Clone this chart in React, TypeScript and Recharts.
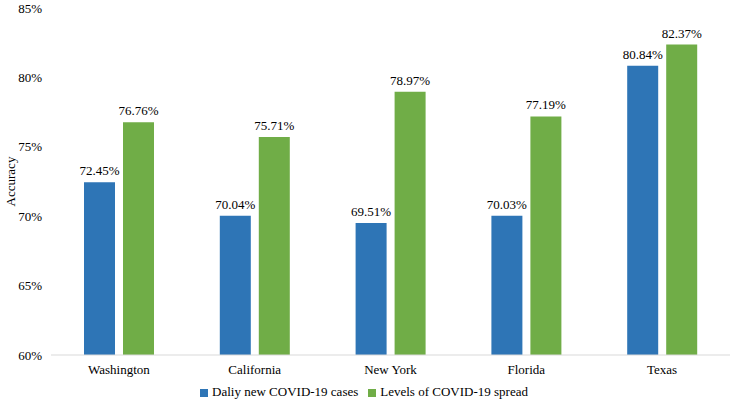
import React from "react";
import { BarChart, Bar, XAxis, YAxis, Legend, LabelList } from "recharts";

const states = ["Washington", "California", "New York", "Florida", "Texas"];
const dailyCases = [72.45, 70.04, 69.51, 70.03, 80.84];
const spreadLevels = [76.76, 75.71, 78.97, 77.19, 82.37];
const yTicks = [60, 65, 70, 75, 80, 85];

const data = states.map((s, i) => ({ state: s, daily: dailyCases[i], spread: spreadLevels[i] }));

const font = "'Liberation Serif', 'Times New Roman', serif";

const renderLabel = (props: any) => {
  const { x, y, width, value } = props;
  return (
    <text
      x={Number(x) + Number(width) / 2}
      y={Number(y) - 7}
      textAnchor="middle"
      fill="#000"
      fontSize={13}
      fontFamily={font}
      style={{ fontFamily: font }}
    >
      {`${Number(value).toFixed(2)}%`}
    </text>
  );
};

export default function App() {
  return (
    <div style={{ position: "absolute", left: 0, top: 0, fontFamily: font }}>
      <BarChart
        width={731}
        height={407}
        data={data}
        margin={{ top: 8, right: 1, left: 0, bottom: 0 }}
        barGap={8}
        barSize={31}
      >
        <XAxis
          dataKey="state"
          tickLine={false}
          tickSize={0}
          tickMargin={10}
          axisLine={{ stroke: "#d9d9d9" }}
          tick={{ fill: "#000", fontSize: 13, fontFamily: font }}
          height={52}
        />
        <YAxis
          domain={[60, 85]}
          ticks={yTicks}
          tickFormatter={(v: number) => `${v}%`}
          axisLine={false}
          tickLine={false}
          tickSize={0}
          tickMargin={9}
          width={51}
          tick={{ fill: "#000", fontSize: 13, fontFamily: font }}
          label={{ value: "Accuracy", angle: -90, position: "insideLeft", offset: 10, fill: "#000", fontSize: 13, fontFamily: font, style: { textAnchor: "middle" } }}
        />
        <Legend
          layout="horizontal"
          verticalAlign="middle"
          align="center"
          iconType="square"
          iconSize={8}
          wrapperStyle={{ top: 384, left: 4, fontSize: 13, fontFamily: font }}
          formatter={(value: string) => <span style={{ color: "#000", fontFamily: font }}>{value}</span>}
        />
        <Bar dataKey="daily" name="Daliy new COVID-19 cases" fill="#2E75B6" isAnimationActive={false}>
          <LabelList dataKey="daily" content={renderLabel} />
        </Bar>
        <Bar dataKey="spread" name="Levels of COVID-19 spread" fill="#70AD47" isAnimationActive={false}>
          <LabelList dataKey="spread" content={renderLabel} />
        </Bar>
      </BarChart>
    </div>
  );
}
